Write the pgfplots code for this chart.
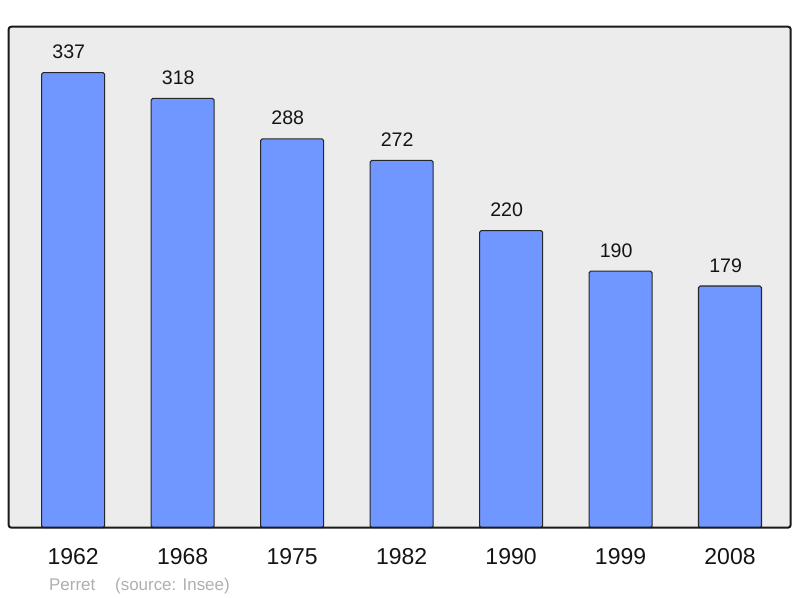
\documentclass[border=0pt]{standalone}
\usepackage{pgfplots}
\pgfplotsset{compat=1.18}
\usepackage{fontspec}
\setmainfont{Liberation Sans}
\definecolor{barblue}{RGB}{112,150,255}
\definecolor{bg}{RGB}{236,236,236}
\definecolor{srcgray}{RGB}{175,175,175}
\definecolor{txt}{RGB}{20,20,20}
\begin{document}
\begin{tikzpicture}
\begin{axis}[
  scale only axis, width=586.5pt, height=375.75pt,
  xmin=-0.589, xmax=6.554, ymin=0, ymax=371.1,
  ytick=\empty, xtick=data,
  xticklabels={1962,1968,1975,1982,1990,1999,2008},
  major tick length=0pt,
  /pgf/number format/assume math mode=true,
  xticklabel style={font=\fontsize{17.25pt}{20pt}\selectfont, anchor=base, inner sep=0pt, yshift=-27.75pt, text=txt},
  axis background/.style={fill=bg},
  axis line style={draw=none},
  clip=false,
  ybar, bar width=0.5755,
  nodes near coords,
  nodes near coords style={/pgf/number format/assume math mode=true},
  every node near coord/.append style={font=\fontsize{14.7pt}{17pt}\selectfont, anchor=base, inner sep=0pt, yshift=10.5pt, xshift=-3.3pt, text=txt},
]
\addplot[fill=barblue, draw=black!85, line width=0.8pt, rounded corners=1.2pt]
  coordinates {(0,337) (1,318) (2,288) (3,272) (4,220) (5,190) (6,179)};
\draw[line width=1.5pt, draw=black!90, rounded corners=2pt] (rel axis cs:0,0) rectangle (rel axis cs:1,1);
\coordinate (ll) at (rel axis cs:0,0);
\coordinate (ur) at (rel axis cs:1,1);
\end{axis}
\node[anchor=base west, inner sep=0pt, text=srcgray, font=\fontsize{12.7pt}{15pt}\selectfont] at ([shift={(30.2pt,-46.9pt)}]ll) {Perret};
\node[anchor=base west, inner sep=0pt, text=srcgray, font=\fontsize{12.7pt}{15pt}\selectfont] at ([shift={(79.7pt,-46.9pt)}]ll) {(source: Insee)};
\pgfresetboundingbox
\useasboundingbox ([shift={(-6.5pt,-52.5pt)}]ll) rectangle ([shift={(7pt,20pt)}]ur);
\end{tikzpicture}
\end{document}
